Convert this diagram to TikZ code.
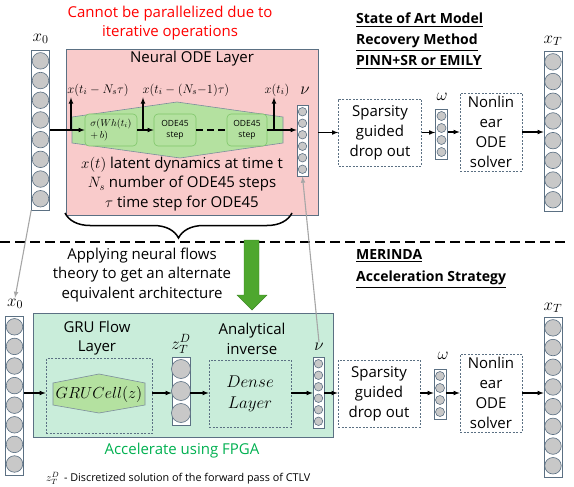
\RequirePackage{fix-cm}
\documentclass[tikz,border=0pt]{standalone}
\usepackage{amsmath}
\usepackage{fontspec}
\setmainfont{Open Sans}
\usepackage{tikz}
\usetikzlibrary{arrows,calc,decorations.pathreplacing}
\definecolor{edgeblue}{HTML}{5B7083}
\definecolor{pinkbg}{HTML}{F9CBCB}
\definecolor{hexgreen}{HTML}{B4E1A0}
\definecolor{boxgreen}{HTML}{7FC66A}
\definecolor{mintbg}{HTML}{C9EDDA}
\definecolor{neurongray}{HTML}{C8C8C8}
\definecolor{flowgreen}{HTML}{4EA72E}
\definecolor{fpgagreen}{HTML}{00B050}
\definecolor{linkgray}{HTML}{A6A6A6}
\tikzset{
    bigtext/.style = {
        align=center,
        inner sep=0pt,
        font=\fontsize{15}{19.5}\selectfont
    },
    titletext/.style = {
        align=left,
        inner sep=0pt,
        font=\fontsize{14}{21}\selectfont\bfseries
    },
    mathlabel/.style = {
        inner sep=1pt,
        font=\fontsize{17}{19}\selectfont
    },
    steplabel/.style = {
        inner sep=1pt,
        font=\fontsize{12.5}{14}\selectfont
    },
    colbox/.style = {
        rectangle,
        draw=edgeblue,
        fill=white,
        line width=0.6pt,
        inner sep=0pt,
        anchor=north
    },
    neuron/.style = {
        circle,
        draw=edgeblue,
        fill=neurongray,
        line width=0.6pt,
        inner sep=0pt
    },
    layerbox/.style = {
        rectangle,
        draw=edgeblue,
        line width=0.6pt,
        inner sep=0pt
    },
    odebox/.style = {
        rectangle,
        rounded corners=4pt,
        draw=boxgreen,
        fill=hexgreen,
        line width=0.6pt,
        align=center,
        inner sep=0pt,
        font=\fontsize{8.5}{11}\selectfont
    },
    hexshape/.style = {
        draw=edgeblue!80,
        fill=hexgreen,
        line width=0.6pt
    },
    dashbox/.style = {
        rectangle,
        draw=edgeblue,
        dash pattern=on 2pt off 1.5pt,
        line width=0.6pt,
        align=center,
        inner sep=0pt,
        font=\fontsize{15}{20}\selectfont
    },
    flow/.style = {
        -latex,
        line width=1.1pt
    },
    graylink/.style = {
        -latex,
        draw=linkgray,
        line width=1.1pt
    }
}
% column of neurons: name, centre x, top y, count, pitch, diameter, width
\newcommand{\neuroncol}[7]{%
    \node[colbox, minimum width=#7pt, minimum height={#4*#5*1pt+2pt}] (#1) at (#2,#3) {};
    \foreach \k in {1,...,#4}
        \node[neuron, minimum size=#6pt] at ($(#1.north)+(0,{#5*(\k-0.5)+1})$) {};
}

\begin{document}
\begin{tikzpicture}[x=1pt, y=-1pt]
    \useasboundingbox (0,0) rectangle (574,487);

    % ---- upper half: state of the art ----
    \node[bigtext, text=red] (serial) at (170,23) {Cannot be parallelized due to\\iterative operations};
    \node[titletext, anchor=north west] (soa) at (356,13) {\underline{State of Art Model}\\\underline{Recovery Method}\\\underline{PINN+SR or EMILY}};

    \node[layerbox, fill=pinkbg, minimum width=252pt, minimum height=166pt] (neural) at (192,132) {};
    \node[bigtext] (neuraltitle) at (192,59) {Neural ODE Layer};
    \draw[hexshape] (72,117) -- (177,102) -- (283,117) -- (283,143) -- (180,158) -- (72,143) -- cycle;
    \node[odebox, minimum width=52pt, minimum height=32pt, align=left, font=\fontsize{10}{12}\selectfont] (sig) at (111,130) {$\sigma(Wh(t_i)$\\$+\,b)$};
    \node[odebox, minimum width=42pt, minimum height=32pt] (ode1) at (175,130) {ODE45\\step};
    \node[odebox, minimum width=40pt, minimum height=32pt] (ode2) at (247,130) {ODE45\\step};
    \node[bigtext] (legend) at (182,184) {$x(t)$ latent dynamics at time t\\$N_s$ number of ODE45 steps\\$\tau$ time step for ODE45};

    \neuroncol{x0a}{40.5}{50}{8}{19.7}{16.5}{18}
    \neuroncol{nua}{302.5}{105}{6}{11.5}{8.5}{11}
    \neuroncol{oma}{441.5}{109}{4}{12}{9}{12}
    \neuroncol{xta}{553}{51}{8}{19.7}{16.5}{18}
    \node[mathlabel] (x0alab) at (40.5,39) {$x_0$};
    \node[mathlabel] (nualab) at (305,91) {$\nu$};
    \node[mathlabel] (omalab) at (442,97) {$\omega$};
    \node[mathlabel] (xtalab) at (553,41) {$x_T$};

    \node[steplabel] (xlab1) at (98,90) {$x(t_i-N_s\tau)$};
    \node[steplabel] (xlab2) at (186,90) {$x(t_i-(N_s{-}1)\tau)$};
    \node[steplabel] (xlab3) at (277,90) {$x(t_i)$};
    \coordinate (tap1) at (71,130);
    \coordinate (tap2) at (143,130);
    \coordinate (tap3) at (274,130);

    \draw[flow] (x0a.east |- sig.west) -- (sig.west);
    \draw[flow] (sig.east) -- (ode1.west);
    \draw[line width=1.5pt, dash pattern=on 7pt off 4pt] (ode1.east) -- (ode2.west);
    \draw[flow] (ode2.east) -- (ode2.east -| nua.west);
    \draw[flow] (tap1) -- (tap1 |- xlab1.south);
    \draw[flow] (tap2) -- (tap2 |- xlab2.south);
    \draw[flow] (tap3) -- (tap3 |- xlab3.south);

    \node[dashbox, minimum width=83pt, minimum height=67pt] (sp1) at (380,132.5) {Sparsity\\guided\\drop out};
    \node[dashbox, minimum width=62pt, minimum height=78pt] (nl1) at (491,132) {Nonlin\\ear\\ODE\\solver};
    \draw[flow] (neural.east |- sp1.west) -- (sp1.west);
    \draw[flow] (sp1.east) -- (sp1.east -| oma.west);
    \draw[flow] (oma.east |- nl1.west) -- (nl1.west);
    \draw[flow] (nl1.east) -- (nl1.east -| xta.west);

    \coordinate (bracel) at (65,213);
    \coordinate (bracer) at (292,213);
    \draw[line width=1.5pt, decorate, decoration={brace, mirror, amplitude=25pt, aspect=0.5}] (bracel) -- (bracer);

    % ---- separator ----
    \draw[line width=2pt, dash pattern=on 10pt off 5pt] (0,242) -- (566,242);

    % ---- lower half: MERINDA ----
    \node[bigtext] (flows) at (142,275) {Applying neural flows\\theory to get an alternate\\equivalent architecture};
    \draw[draw=flowgreen!80!black, fill=flowgreen, line width=0.4pt] (244,240) -- (259,240) -- (259,295) -- (267,295) -- (252,310) -- (237,295) -- (244,295) -- cycle;
    \node[titletext, anchor=north west, font=\fontsize{14}{22.5}\selectfont\bfseries] (merinda) at (356,249) {\underline{MERINDA}\\\underline{Acceleration Strategy}};

    \node[layerbox, fill=mintbg, minimum width=300pt, minimum height=124pt] (fpga) at (183,375) {};
    \node[bigtext] (grutitle) at (97,338) {GRU Flow\\Layer};
    \node[bigtext] (invtitle) at (252,339) {Analytical\\inverse};
    \node[dashbox, minimum width=106pt, minimum height=75pt] (grubox) at (99,396) {};
    \draw[hexshape] (53,383) -- (99,374) -- (145,383) -- (145,405) -- (99,413) -- (53,405) -- cycle;
    \node[inner sep=0pt, font=\fontsize{16}{18}\selectfont] (gru) at (99,394) {$GRUCell(z)$};
    \node[dashbox, minimum width=82pt, minimum height=67pt, font=\fontsize{17}{21}\selectfont] (dense) at (250,393.5) {$Dense$\\$Layer$};
    \node[bigtext, text=fpgagreen] (accel) at (182,451) {Accelerate using FPGA};

    \neuroncol{x0b}{14.5}{316}{8}{19.6}{16.5}{18}
    \neuroncol{zcol}{181}{357}{3}{22}{19}{18}
    \neuroncol{nub}{318.5}{357}{6}{11.5}{8.5}{11}
    \neuroncol{omb}{440}{369}{4}{12}{9}{12}
    \neuroncol{xtb}{553}{317}{8}{19.7}{16.5}{18}
    \node[mathlabel] (x0blab) at (15,304) {$x_0$};
    \node[mathlabel, anchor=south] (zlab) at (181,355) {$z_T^D$};
    \node[mathlabel] (nublab) at (319,347) {$\nu$};
    \node[mathlabel] (omblab) at (443,356) {$\omega$};
    \node[mathlabel] (xtblab) at (553,308) {$x_T$};

    \node[dashbox, minimum width=82pt, minimum height=67pt] (sp2) at (379,393.5) {Sparsity\\guided\\drop out};
    \node[dashbox, minimum width=62pt, minimum height=78pt] (nl2) at (491,393) {Nonlin\\ear\\ODE\\solver};

    \coordinate (row) at (0,393);
    \draw[flow] (x0b.east |- row) -- (grubox.west |- row);
    \draw[flow] (grubox.east |- row) -- (zcol.west |- row);
    \draw[flow] (zcol.east |- row) -- (dense.west |- row);
    \draw[flow] (dense.east |- row) -- (nub.west |- row);
    \draw[flow] (nub.east |- row) -- (sp2.west |- row);
    \draw[flow] (sp2.east |- row) -- (omb.west |- row);
    \draw[flow] (omb.east |- row) -- (nl2.west |- row);
    \draw[flow] (nl2.east |- row) -- (xtb.west |- row);

    \draw[graylink] (x0a.south west) -- (x0blab.north);
    \draw[graylink] (nublab.north) -- (nua.south);

    \node[anchor=west, inner sep=0pt, font=\fontsize{10.8}{13}\selectfont] (note) at (46,478) {$z_T^D$\, - Discretized solution of the forward pass of CTLV};
\end{tikzpicture}
\end{document}
